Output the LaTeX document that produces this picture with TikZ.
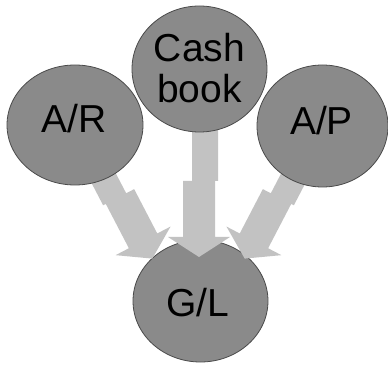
\documentclass[tikz,border=0pt]{standalone}
\usepackage{fontspec}
\setmainfont{Liberation Sans}
\usetikzlibrary{shapes.geometric}
\definecolor{discfill}{HTML}{8A8A8A}
\definecolor{discline}{HTML}{4A4A4A}
\definecolor{arrowfill}{HTML}{C2C2C2}
\tikzset{
  disc/.style={ellipse, fill=discfill, draw=discline, line width=0.8pt, inner sep=0pt},
  disclabel/.style={inner sep=0pt, font=\fontsize{39}{41}\selectfont, align=center},
  fatarrow/.style={fill=arrowfill, draw=none}
}
\newcommand\lightarrow[1]{%
  \fill[fatarrow, #1] (0,0) -- (31,20) -- (16,20) -- (16,76) -- (19,76) -- (19,150)
    -- (-7,150) -- (-7,76) -- (-16,76) -- (-16,20) -- (-31,20) -- cycle;}
\newcommand\sidearrow[1]{%
  \fill[fatarrow, #1] (0,0) -- (31,20) -- (16,20) -- (16,70) -- (19,70) -- (19,140)
    -- (-7,140) -- (-7,70) -- (-16,70) -- (-16,20) -- (-31,20) -- cycle;}
\begin{document}
\begin{tikzpicture}[x=1pt,y=1pt]
\useasboundingbox (0,0) rectangle (388,364);
% bottom disc (under the arrows)
\node[disc, minimum width=135pt, minimum height=122pt] (gl) at (200.5,63) {};
% arrow tips
\coordinate (tipar) at (152.3,105.4);
\coordinate (tipcb) at (199,107);
\coordinate (tipap) at (244.7,105.4);
% arrows
\sidearrow{shift={(tipar)}, rotate=27.5, xscale=-1}
\lightarrow{shift={(tipcb)}}
\sidearrow{shift={(tipap)}, rotate=-27.5}
% upper discs
\node[disc, minimum width=136pt, minimum height=120pt] (ar) at (75,239) {};
\node[disc, minimum width=135pt, minimum height=126pt] (cb) at (199.5,295) {};
\node[disc, minimum width=131pt, minimum height=122pt] (ap) at (322.5,238) {};
% labels
\node[disclabel, anchor=base] (ar-t) at (74,231) {A/R};
\node[disclabel] (cb-t) at (199.5,295.7) {Cash\\book};
\node[disclabel, anchor=base] (ap-t) at (321.5,229) {A/P};
\node[disclabel, anchor=base] (gl-t) at (197.5,47) {G/L};
\end{tikzpicture}
\end{document}
